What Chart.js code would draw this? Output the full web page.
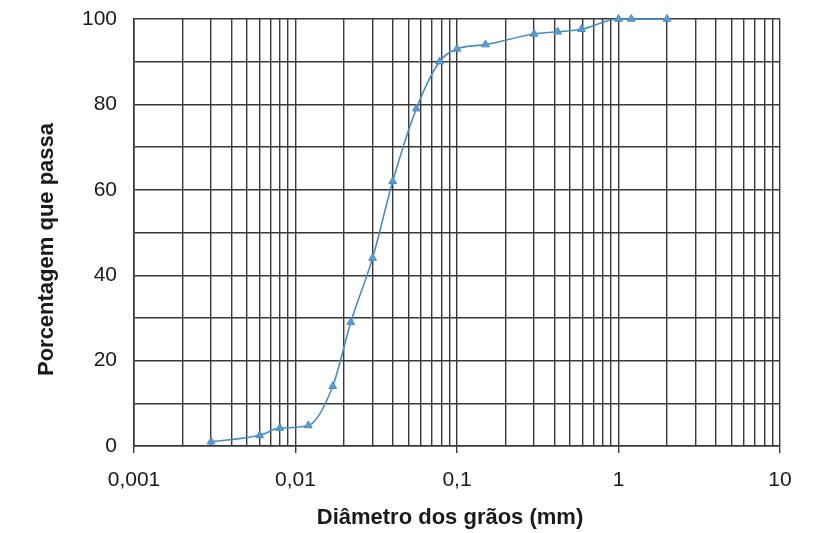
<!DOCTYPE html>
<html lang="pt">
<head>
<meta charset="utf-8">
<title>Curva granulométrica</title>
<script src="https://cdn.jsdelivr.net/npm/chart.js@4/dist/chart.umd.min.js"></script>
<style>
    html, body { margin: 0; padding: 0; background: #fff; }
    canvas { display: block; }
</style>
</head>
<body>
<canvas id="granChart" width="827" height="533"></canvas>
<script>
// Grain size distribution (semi-log)
const diameters = [0.003, 0.006, 0.008, 0.012, 0.017, 0.022, 0.030, 0.040, 0.056, 0.078, 0.10, 0.15, 0.30, 0.42, 0.59, 1.0, 1.2, 2.0];
const passing = [1, 2.5, 4.2, 4.8, 14, 29, 44, 62, 79, 90, 93, 94, 96.5, 97, 97.6, 100, 100, 100];

// decades of the log axis and their labels
const decades = [0.001, 0.01, 0.1, 1, 10];
const decadeLabels = ['0,001', '0,01', '0,1', '1', '10'];
const yLabels = [0, 20, 40, 60, 80, 100];

const xTitle = 'Diâmetro dos grãos (mm)';
const yTitle = 'Porcentagem que passa';

// one vertical grid line for 1..9 in each decade
const multipliers = [1, 2, 3, 4, 5, 6, 7, 8, 9];
const xGridValues = [];
decades.slice(0, -1).forEach(d => {
    multipliers.forEach(m => xGridValues.push(+(d * m).toPrecision(6)));
});
xGridValues.push(decades[decades.length - 1]);

const gridColor = '#383838';
const textColor = '#1a1a1a';
const lineBlue = '#4a8cc0';
const fontFamily = "'Liberation Sans', Arial, sans-serif";

function decadeIndex(v) {
    return decades.findIndex(d => Math.abs(d - v) / d < 1e-6);
}

// axis titles drawn by hand so they can sit a little off-centre
const axisTitles = {
    id: 'axisTitles',
    afterDraw(chart) {
        const { ctx, chartArea } = chart;
        ctx.save();
        ctx.fillStyle = textColor;
        ctx.font = `bold 22px ${fontFamily}`;
        ctx.textAlign = 'center';
        ctx.textBaseline = 'middle';
        ctx.fillText(xTitle, (chartArea.left + chartArea.right) / 2 - 7, 518);
        ctx.translate(47, (chartArea.top + chartArea.bottom) / 2 + 17);
        ctx.rotate(-Math.PI / 2);
        ctx.fillText(yTitle, 0, 0);
        ctx.restore();
    }
};

const ctx = document.getElementById('granChart').getContext('2d');
new Chart(ctx, {
    type: 'scatter',
    data: {
        datasets: [{
            data: diameters.map((d, i) => ({ x: d, y: passing[i] })),
            showLine: true,
            borderColor: lineBlue,
            borderWidth: 1.6,
            cubicInterpolationMode: 'monotone',
            pointStyle: 'triangle',
            pointRadius: 4.5,
            pointBackgroundColor: '#5a9bd0',
            pointBorderColor: lineBlue,
            pointBorderWidth: 1,
            clip: false
        }]
    },
    options: {
        responsive: false,
        animation: false,
        layout: { padding: { top: 19, right: 47, left: 0, bottom: 0 } },
        plugins: {
            legend: { display: false },
            tooltip: { enabled: false }
        },
        scales: {
            x: {
                type: 'logarithmic',
                min: 0.001,
                max: 10,
                afterBuildTicks: scale => {
                    scale.ticks = xGridValues.map(v => ({ value: v }));
                },
                afterFit: scale => { scale.height = 87; },
                grid: {
                    color: gridColor,
                    lineWidth: 1.4,
                    drawTicks: true,
                    tickLength: 7,
                    tickColor: c => decadeIndex(c.tick.value) >= 0 ? gridColor : 'rgba(0,0,0,0)'
                },
                border: { color: gridColor, width: 1.6 },
                ticks: {
                    autoSkip: false,
                    maxRotation: 0,
                    padding: 15,
                    color: textColor,
                    font: { family: fontFamily, size: 21 },
                    callback: v => {
                        const i = decadeIndex(v);
                        return i >= 0 ? decadeLabels[i] : '';
                    }
                }
            },
            y: {
                min: 0,
                max: 100,
                afterFit: scale => {
                    scale.width = 134;
                    // let the "100" label overhang the top margin
                    scale.paddingTop = 0;
                    scale.paddingBottom = 0;
                },
                grid: {
                    color: gridColor,
                    lineWidth: 1.4,
                    drawTicks: false
                },
                border: { color: gridColor, width: 1.6 },
                ticks: {
                    stepSize: 5,
                    padding: 17,
                    color: textColor,
                    font: { family: fontFamily, size: 21 },
                    callback: v => yLabels.includes(v) ? String(v) : ''
                }
            }
        }
    },
    plugins: [axisTitles]
});
</script>
</body>
</html>
